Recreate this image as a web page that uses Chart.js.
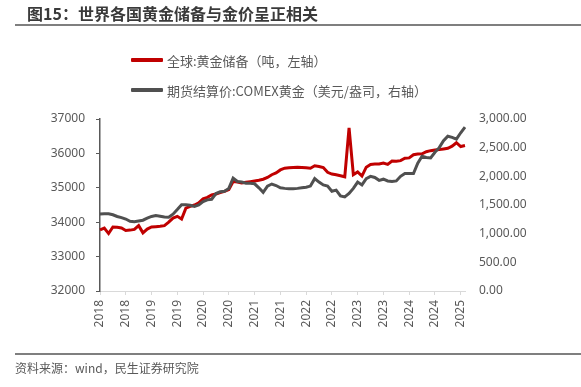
<!DOCTYPE html>
<html>
<head>
<meta charset="utf-8">
<script src="https://cdn.jsdelivr.net/npm/chart.js@4.4.1/dist/chart.umd.min.js"></script>
<style>
  html, body { margin: 0; padding: 0; background: #fff; }
  #wrap { position: relative; width: 581px; height: 387px; overflow: hidden;
          font-family: 'Noto Sans CJK SC', 'Noto Sans', sans-serif; }
  #c { position: absolute; left: 0; top: 0; }
  #title { position: absolute; left: 27px; top: 1px; font-size: 16px; font-weight: bold; color: #3a3a3a; white-space: nowrap; }
  #tline { position: absolute; left: 15px; right: 0; top: 24px; height: 2px; background: #7f7f7f; }
  #fline { position: absolute; left: 15px; right: 0; top: 353px; height: 2px; background: #7f7f7f; }
  #src { position: absolute; left: 15px; top: 359px; font-size: 12px; color: #595959; white-space: nowrap; }
  .lg { position: absolute; left: 131px; height: 16px; font-size: 13px; color: #595959; white-space: nowrap; display: flex; align-items: center; }
  .lg span.sw { display: inline-block; width: 32px; height: 4px; margin-right: 4px; border-radius: 1px; }
</style>
</head>
<body>
<div id="wrap">
  <canvas id="c" width="581" height="387"></canvas>
  <div id="title">图15：世界各国黄金储备与金价呈正相关</div>
  <div id="tline"></div>
  <div id="legend"></div>
  <div id="fline"></div>
  <div id="src">资料来源：wind，民生证券研究院</div>
</div>
<script>
// ---- data ----
const seriesNames = ['全球:黄金储备（吨，左轴）', '期货结算价:COMEX黄金（美元/盎司，右轴）'];
const seriesColors = ['#C00000', '#505050'];

// monthly categories, Jan 2018 .. Feb 2025
const months = [];
for (let y = 2018; y <= 2025; y++) {
  for (let m = 1; m <= 12; m++) {
    if (y === 2025 && m > 2) break;
    months.push(y + '-' + String(m).padStart(2, '0'));
  }
}
const tickYears = ['2018','2018','2019','2019','2020','2020','2021','2021','2022','2022','2023','2023','2024','2024','2025'];

const goldReserves = [
  33780, 33830, 33670, 33860, 33850, 33830, 33760, 33770, 33790, 33900, 33690, 33800,
  33860, 33870, 33880, 33900, 34000, 34120, 34170, 34090, 34410, 34460, 34500, 34560,
  34680, 34720, 34790, 34820, 34860, 34895, 34950, 35180, 35170, 35140, 35160, 35180,
  35200, 35220, 35250, 35300, 35380, 35430, 35520, 35570, 35580, 35590, 35600, 35590,
  35580, 35570, 35640, 35620, 35590, 35450, 35400, 35380, 35350, 35320, 36740, 35380,
  35460, 35340, 35600, 35680, 35690, 35690, 35720, 35680, 35780, 35770, 35790, 35860,
  35870, 35960, 35980, 35990, 36050, 36080, 36100, 36110, 36130, 36150, 36210, 36310,
  36200, 36230
];
const comexGold = [
  1345, 1348, 1348, 1330, 1300, 1280, 1255, 1215, 1210, 1222, 1235, 1270,
  1300, 1315, 1305, 1290, 1285, 1340, 1420, 1505, 1505, 1495, 1475, 1500,
  1560, 1590, 1600, 1700, 1730, 1740, 1790, 1970, 1910, 1900, 1880, 1880,
  1870, 1800, 1720, 1830, 1866, 1840, 1800, 1790, 1785, 1785, 1790, 1800,
  1810, 1830, 1960, 1900, 1850, 1830, 1740, 1760, 1660, 1640, 1700, 1790,
  1900, 1850, 1960, 2000, 1980, 1930, 1950, 1920, 1910, 1920, 2000, 2050,
  2050, 2050, 2230, 2350, 2330, 2320, 2420, 2500, 2620, 2700, 2680, 2650,
  2760, 2860
];
const leftTicks = { min: 32000, max: 37000, step: 1000 };
const rightTicks = { min: 0, max: 3000, step: 500 };

// ---- legend (HTML) ----
const lg = document.getElementById('legend');
const legendTops = [52, 82];
seriesNames.forEach((n, i) => {
  const d = document.createElement('div');
  d.className = 'lg';
  d.style.top = legendTops[i] + 'px';
  d.innerHTML = '<span class="sw" style="background:' + seriesColors[i] + '"></span>' + n;
  lg.appendChild(d);
});

// ---- chart ----
Chart.defaults.font.family = "'Noto Sans', 'Noto Sans CJK SC', sans-serif";
Chart.defaults.font.size = 12;
Chart.defaults.color = '#595959';

new Chart(document.getElementById('c'), {
  type: 'line',
  data: {
    labels: months,
    datasets: [
      { label: seriesNames[0], data: goldReserves, yAxisID: 'yL', borderColor: seriesColors[0],
        backgroundColor: seriesColors[0], borderWidth: 3, pointRadius: 0, tension: 0, order: 2 },
      { label: seriesNames[1], data: comexGold, yAxisID: 'yR', borderColor: seriesColors[1],
        backgroundColor: seriesColors[1], borderWidth: 3, pointRadius: 0, tension: 0, order: 1 }
    ]
  },
  options: {
    responsive: false,
    animation: false,
    devicePixelRatio: 1,
    layout: { padding: { top: 119, left: 0, right: 0, bottom: 0 } },
    plugins: { legend: { display: false }, tooltip: { enabled: false } },
    scales: {
      x: {
        type: 'category',
        offset: false,
        grid: { display: true, drawOnChartArea: false, drawTicks: true, tickLength: 4, color: '#d9d9d9' },
        border: { display: true, color: '#d9d9d9', width: 1 },
        ticks: {
          autoSkip: false, minRotation: 90, maxRotation: 90, padding: 5,
          font: { size: 12 }, color: '#595959',
          callback: function (v, idx) { return idx % 6 === 0 ? tickYears[idx / 6] : null; }
        },
        afterFit: function (s) { s.height = 96; }
      },
      yL: {
        position: 'left',
        min: leftTicks.min, max: leftTicks.max,
        grid: { display: true, drawOnChartArea: false, drawTicks: true, tickLength: 4, color: '#595959' },
        border: { display: true, color: '#595959', width: 1.5 },
        ticks: { stepSize: leftTicks.step, padding: 11, font: { size: 12 }, color: '#595959',
                 callback: v => String(v) },
        afterFit: function (s) { s.width = 100; }
      },
      yR: {
        position: 'right',
        min: rightTicks.min, max: rightTicks.max,
        grid: { display: false, drawTicks: false },
        border: { display: false },
        ticks: { stepSize: rightTicks.step, padding: 14, font: { size: 12 }, color: '#595959',
                 callback: v => v.toLocaleString('en-US', { minimumFractionDigits: 2, maximumFractionDigits: 2 }) },
        afterFit: function (s) { s.width = 116; }
      }
    }
  }
});
</script>
</body>
</html>
